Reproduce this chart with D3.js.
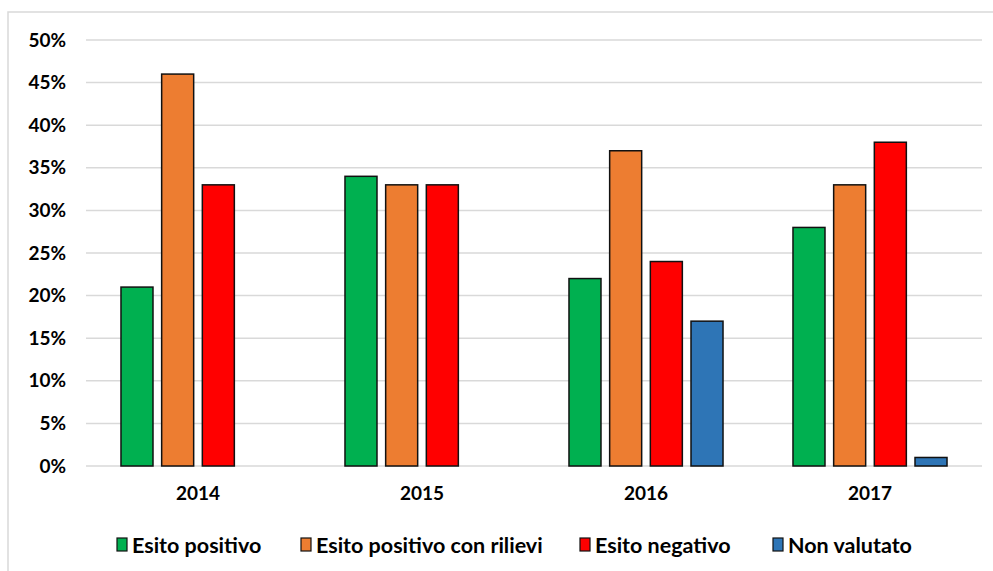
<!DOCTYPE html>
<html>
<head>
<meta charset="utf-8">
<script src="https://cdn.jsdelivr.net/npm/d3@7"></script>
<style>
  html, body { margin: 0; padding: 0; background: #ffffff; }
  svg { display: block; }
  text { font-family: Lato, "Liberation Sans", sans-serif; fill: #000; }
</style>
</head>
<body>
<svg id="chart" width="993" height="571"></svg>
<script>
// Anni e serie (valori in percentuale)
const years = ["2014", "2015", "2016", "2017"];
const seriesNames = ["Esito positivo", "Esito positivo con rilievi", "Esito negativo", "Non valutato"];
const seriesColors = ["#00B050", "#ED7D31", "#FF0000", "#2E75B6"];
const esitoPositivo = [21, 34, 22, 28];
const esitoPositivoConRilievi = [46, 33, 37, 33];
const esitoNegativo = [33, 33, 24, 38];
const nonValutato = [null, null, 17, 1];
const yTicks = [0, 5, 10, 15, 20, 25, 30, 35, 40, 45, 50];

const seriesValues = [esitoPositivo, esitoPositivoConRilievi, esitoNegativo, nonValutato];

const svg = d3.select("#chart");
const W = 993, H = 571;

// cornice del grafico
svg.append("rect")
  .attr("x", 8).attr("y", 12)
  .attr("width", W + 10).attr("height", H + 10)
  .attr("fill", "none").attr("stroke", "#d9d9d9").attr("stroke-width", 1.5);

const plot = { left: 86, right: 982, top: 40, bottom: 466 };

const y = d3.scaleLinear().domain([0, 50]).range([plot.bottom, plot.top]);
const x0 = d3.scaleBand().domain(years).range([plot.left, plot.right]).padding(0);
const x1 = d3.scaleBand().domain(seriesNames).range([0, x0.bandwidth()])
  .paddingInner(0.213).paddingOuter(0.86);

// griglia orizzontale
svg.append("g").selectAll("line").data(yTicks).join("line")
  .attr("x1", plot.left).attr("x2", plot.right)
  .attr("y1", d => y(d)).attr("y2", d => y(d))
  .attr("stroke", "#d9d9d9").attr("stroke-width", 1.5);

// etichette asse Y
const yAxis = d3.axisLeft(y).tickValues(yTicks).tickFormat(d => d + "%").tickSize(0).tickPadding(0);
const gy = svg.append("g").attr("transform", "translate(66,0)").call(yAxis);
gy.select(".domain").remove();
gy.selectAll("text")
  .style("font-family", "Lato, 'Liberation Sans', sans-serif")
  .style("font-size", "19px").style("font-weight", "bold").attr("fill", "#000");

// etichette asse X
const xAxis = d3.axisBottom(x0).tickSize(0).tickPadding(0);
const gx = svg.append("g").attr("transform", `translate(0,${plot.bottom + 20})`).call(xAxis);
gx.select(".domain").remove();
gx.selectAll("text")
  .style("font-family", "Lato, 'Liberation Sans', sans-serif")
  .style("font-size", "19px").style("font-weight", "bold").attr("fill", "#000");

// barre
const rows = [];
years.forEach((yr, i) => {
  seriesNames.forEach((s, j) => {
    const v = seriesValues[j][i];
    if (v !== null) rows.push({ year: yr, series: s, value: v, color: seriesColors[j] });
  });
});

svg.append("g").selectAll("rect").data(rows).join("rect")
  .attr("x", d => x0(d.year) + x1(d.series))
  .attr("y", d => y(d.value))
  .attr("width", x1.bandwidth())
  .attr("height", d => y(0) - y(d.value))
  .attr("fill", d => d.color)
  .attr("stroke", "#111").attr("stroke-width", 1.5);

// legenda
const legendX = [117, 301, 580, 773];
const legendY = 545;
const lg = svg.append("g").selectAll("g").data(seriesNames).join("g")
  .attr("transform", (d, i) => `translate(${legendX[i]},${legendY})`);
lg.append("rect")
  .attr("x", 0).attr("y", -7).attr("width", 10).attr("height", 13)
  .attr("fill", (d, i) => seriesColors[i]).attr("stroke", "#111").attr("stroke-width", 1.2);
lg.append("text")
  .attr("x", 15).attr("y", 0).attr("dy", "0.35em")
  .style("font-size", "21.5px").style("font-weight", "bold")
  .text(d => d);
</script>
</body>
</html>
